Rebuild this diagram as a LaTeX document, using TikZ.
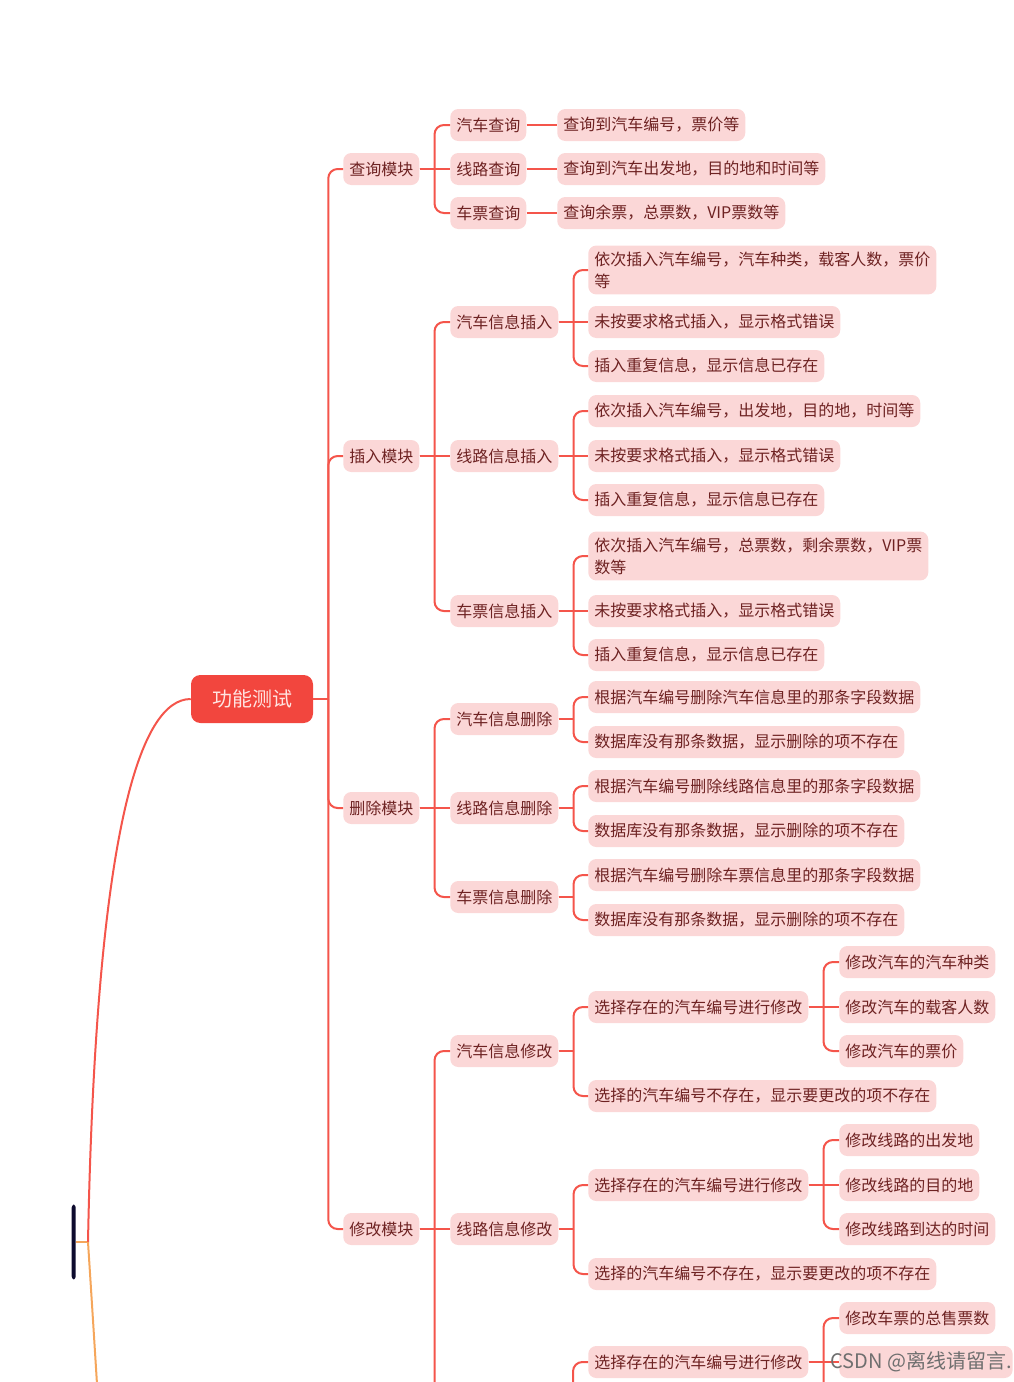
\documentclass[tikz,border=0pt]{standalone}
\usepackage{fontspec}
\setmainfont{Noto Sans CJK SC}
\usepackage{tikz}
\definecolor{LinkRed}{HTML}{F4554B}
\definecolor{RootRed}{HTML}{F2463E}
\definecolor{SoftPink}{HTML}{FBD7D7}
\definecolor{InkRed}{HTML}{6E2222}
\definecolor{PaleRose}{HTML}{FFE4E1}
\definecolor{TrunkGold}{HTML}{F5A65B}
\definecolor{NightBlue}{HTML}{0D0B2E}
\definecolor{MarkGray}{HTML}{6F6F6F}

\begin{document}
\begin{tikzpicture}[x=0.75pt,y=-0.75pt,
  leaf/.style={anchor=west,rounded corners=6pt,fill=SoftPink,text=InkRed,font=\fontsize{12pt}{16.5pt}\selectfont,inner xsep=4.5pt,inner ysep=4.5pt,minimum height=24pt,align=left},
  link/.style={draw=LinkRed,line width=1.5pt}]
\useasboundingbox (0,0) rectangle (1014,1382);
\clip (0,0) rectangle (1014,1382);
% root and the cut-off centre
\node[fill=RootRed,text=PaleRose,rounded corners=7pt,font=\fontsize{15pt}{18pt}\selectfont,minimum width=91.5pt,minimum height=36pt] (root) at (252,699) {功能测试};
\node[fill=NightBlue,rounded corners=2pt,minimum width=3pt,inner sep=0pt,minimum height=56pt,anchor=east] (center) at (76,1242) {};
\coordinate (fork) at (88,1242); \coordinate (below) at (98,1400);
% modules
\node[leaf] (qry) at (343,169) {查询模块};
\node[leaf] (ins) at (343,456) {插入模块};
\node[leaf] (del) at (343,808) {删除模块};
\node[leaf] (mdf) at (343,1229) {修改模块};
% query
\node[leaf] (qbus) at (450,125) {汽车查询};
\node[leaf] (qroute) at (450,169) {线路查询};
\node[leaf] (qtick) at (450,213) {车票查询};
\node[leaf] (qbusA) at (557,125) {查询到汽车编号，票价等};
\node[leaf] (qrouteA) at (557,169) {查询到汽车出发地，目的地和时间等};
\node[leaf] (qtickA) at (557,213) {查询余票，总票数，VIP票数等};
% insert
\node[leaf] (ibus) at (450,322) {汽车信息插入};
\node[leaf] (iroute) at (450,456) {线路信息插入};
\node[leaf] (itick) at (450,611) {车票信息插入};
\node[leaf] (ibusA) at (588,270) {依次插入汽车编号，汽车种类，载客人数，票价\\等};
\node[leaf] (ibusB) at (588,322) {未按要求格式插入，显示格式错误};
\node[leaf] (ibusC) at (588,366) {插入重复信息，显示信息已存在};
\node[leaf] (irouteA) at (588,411) {依次插入汽车编号，出发地，目的地，时间等};
\node[leaf] (irouteB) at (588,456) {未按要求格式插入，显示格式错误};
\node[leaf] (irouteC) at (588,500) {插入重复信息，显示信息已存在};
\node[leaf] (itickA) at (588,556) {依次插入汽车编号，总票数，剩余票数，VIP票\\数等};
\node[leaf] (itickB) at (588,611) {未按要求格式插入，显示格式错误};
\node[leaf] (itickC) at (588,655) {插入重复信息，显示信息已存在};
% delete
\node[leaf] (dbus) at (450,719) {汽车信息删除};
\node[leaf] (droute) at (450,808) {线路信息删除};
\node[leaf] (dtick) at (450,897) {车票信息删除};
\node[leaf] (dbusA) at (588,697) {根据汽车编号删除汽车信息里的那条字段数据};
\node[leaf] (dbusB) at (588,742) {数据库没有那条数据，显示删除的项不存在};
\node[leaf] (drouteA) at (588,786) {根据汽车编号删除线路信息里的那条字段数据};
\node[leaf] (drouteB) at (588,831) {数据库没有那条数据，显示删除的项不存在};
\node[leaf] (dtickA) at (588,875) {根据汽车编号删除车票信息里的那条字段数据};
\node[leaf] (dtickB) at (588,920) {数据库没有那条数据，显示删除的项不存在};
% modify
\node[leaf] (mbus) at (450,1051) {汽车信息修改};
\node[leaf] (mroute) at (450,1229) {线路信息修改};
\coordinate (mtick) at (450,1440); \coordinate (mtickE) at (558,1440);
\node[leaf] (mbusA) at (588,1007) {选择存在的汽车编号进行修改};
\node[leaf] (mbusB) at (588,1096) {选择的汽车编号不存在，显示要更改的项不存在};
\node[leaf] (mrouteA) at (588,1185) {选择存在的汽车编号进行修改};
\node[leaf] (mrouteB) at (588,1274) {选择的汽车编号不存在，显示要更改的项不存在};
\node[leaf] (mtickA) at (588,1362) {选择存在的汽车编号进行修改};
\node[leaf] (mbusA1) at (839,962) {修改汽车的汽车种类};
\node[leaf] (mbusA2) at (839,1007) {修改汽车的载客人数};
\node[leaf] (mbusA3) at (839,1051) {修改汽车的票价};
\node[leaf] (mrouteA1) at (839,1140) {修改线路的出发地};
\node[leaf] (mrouteA2) at (839,1185) {修改线路的目的地};
\node[leaf] (mrouteA3) at (839,1229) {修改线路到达的时间};
\node[leaf] (mtickA1) at (839,1318) {修改车票的总售票数};
\node[leaf,minimum width=130pt] (mtickA2) at (839,1362) {};
\coordinate (mtickA3) at (839,1440);
% connectors
\draw[link,draw=TrunkGold] (center.east) -- (fork);
\draw[link] (fork) .. controls (96,830) and (140,699) .. (root.west);
\draw[link,draw=TrunkGold] (fork) .. controls (93,1320) .. (below);
% straight ones (child level with parent)
\foreach \p/\c in {qry/qroute,qbus/qbusA,qroute/qrouteA,qtick/qtickA,ins/iroute,ibus/ibusB,iroute/irouteB,itick/itickB,
  del/droute,mdf/mroute,mbusA/mbusA2,mrouteA/mrouteA2,mtickA/mtickA2}
  \draw[link] (\p.east) -- (\c.west);
% elbows
\foreach \p/\c in {root/qry,root/ins,root/del,root/mdf,
  qry/qbus,qry/qtick,ins/ibus,ins/itick,ibus/ibusA,ibus/ibusC,
  iroute/irouteA,iroute/irouteC,itick/itickA,itick/itickC,
  del/dbus,del/dtick,dbus/dbusA,dbus/dbusB,droute/drouteA,droute/drouteB,dtick/dtickA,dtick/dtickB,
  mdf/mbus,mdf/mtick,mbus/mbusA,mbus/mbusB,mroute/mrouteA,mroute/mrouteB,mtickE/mtickA,
  mbusA/mbusA1,mbusA/mbusA3,mrouteA/mrouteA1,mrouteA/mrouteA3,
  mtickA/mtickA1,mtickA/mtickA3}{
  \draw[link] (\p.east) -- ++(15,0);
  \draw[link,rounded corners=7pt] ([xshift=11.25pt]\p.east) |- (\c.west);
}
% watermark
\node[text=MarkGray,font=\fontsize{15pt}{18pt}\selectfont] (mark) at (921,1362) {CSDN @离线请留言.};
\end{tikzpicture}
\end{document}
